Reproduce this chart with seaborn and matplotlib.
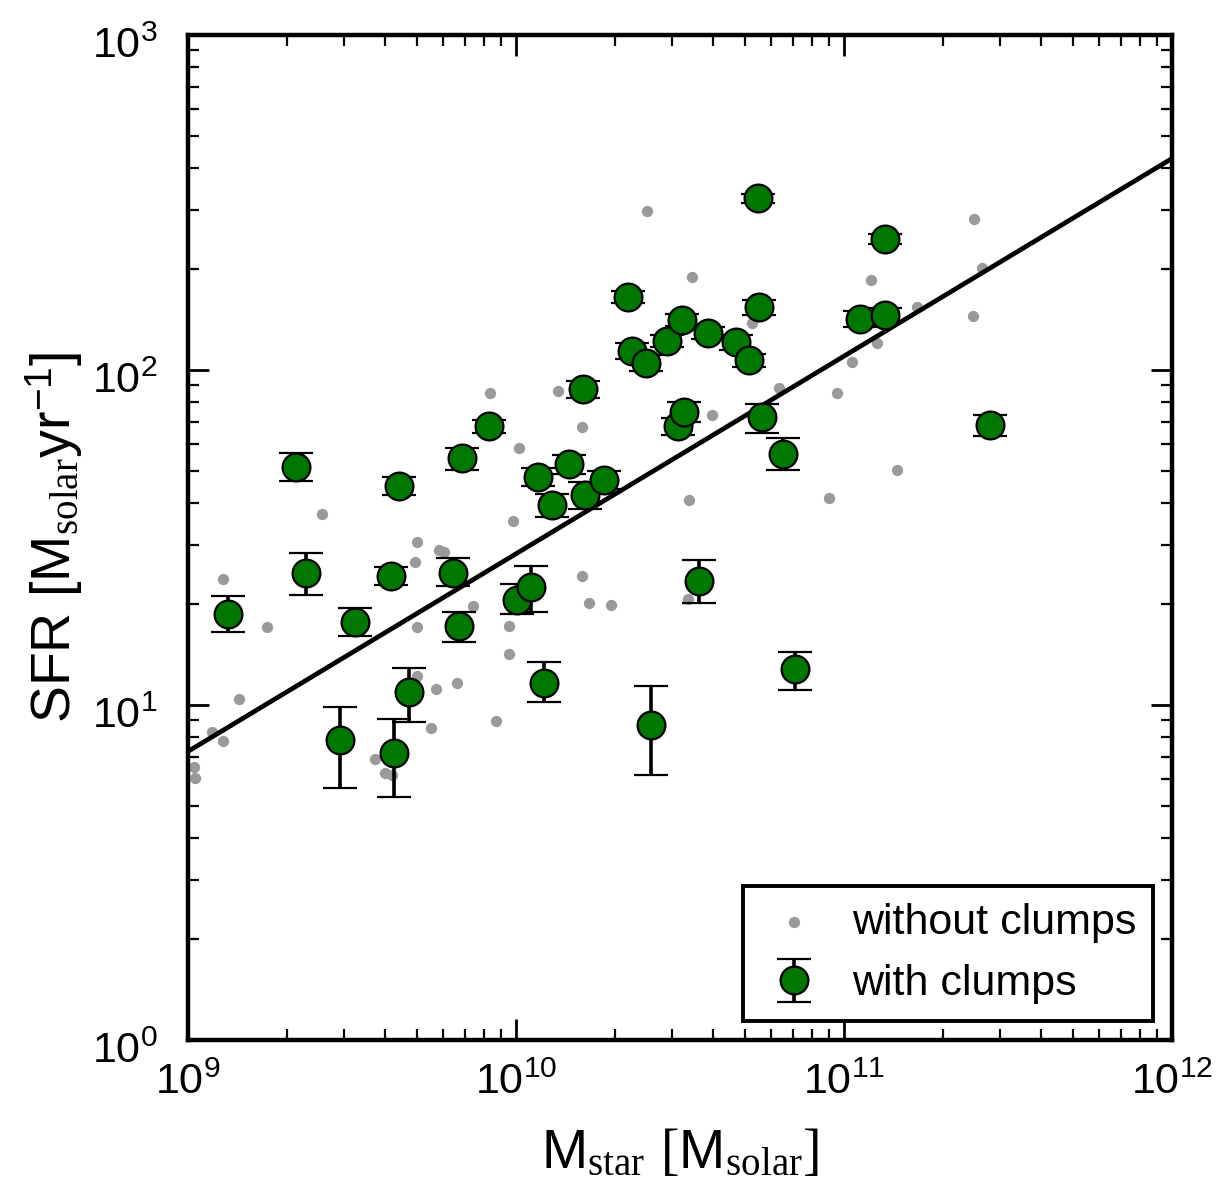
import numpy as np
import pandas as pd
import matplotlib
matplotlib.use("Agg")
import matplotlib.pyplot as plt
import matplotlib.transforms as mtransforms
import seaborn as sns

# ---- data: galaxies without clumps (grey dots) ----
mstar_noclump = [8.34e9, 1.34e10, 1.59e10, 1.02e10, 2.56e9, 9.8e9, 4.99e9, 5.82e9, 6.03e9, 4.92e9,
                 1.28e9, 1.59e10, 1.67e10, 1.74e9, 7.40e9, 4.99e9, 9.53e9, 9.53e9, 4.99e9, 5.70e9,
                 6.61e9, 1.43e9, 8.69e9, 5.51e9, 1.18e9, 1.28e9, 3.72e9, 3.99e9, 4.19e9, 1.04e9,
                 1.05e9, 2.51e10, 3.44e10, 1.21e11, 2.49e11, 1.67e11, 2.47e11, 2.64e11, 3.96e10, 5.25e10,
                 6.34e10, 1.06e11, 9.53e10, 1.26e11, 1.45e11, 3.37e10, 8.99e10, 1.95e10, 3.34e10]
sfr_noclump = [85.4, 86.5, 67.6, 58.5, 37.2, 35.4, 30.7, 29.0, 28.7, 26.7,
               23.8, 24.3, 20.2, 17.1, 19.8, 17.1, 17.2, 14.2, 12.2, 11.2,
               11.6, 10.4, 8.96, 8.53, 8.30, 7.83, 6.90, 6.27, 6.18, 6.53,
               6.05, 298, 190, 186, 282, 154, 145, 201, 73.4, 138,
               88.3, 106, 85.4, 120, 50.3, 40.9, 41.5, 19.9, 20.7]

# ---- data: galaxies with clumps (green, with error bars) ----
mstar_clump = [1.32e9, 2.13e9, 2.29e9, 2.90e9, 3.23e9, 4.16e9, 4.25e9, 4.40e9, 4.72e9, 6.43e9,
               6.70e9, 6.84e9, 8.28e9, 1.01e10, 1.11e10, 1.17e10, 1.22e10, 1.29e10, 1.45e10, 1.60e10,
               1.62e10, 1.86e10, 2.19e10, 2.26e10, 2.49e10, 2.58e10, 2.89e10, 3.12e10, 3.20e10, 3.25e10,
               3.61e10, 3.85e10, 4.69e10, 5.13e10, 5.47e10, 5.50e10, 5.62e10, 6.52e10, 7.10e10, 1.12e11,
               1.33e11, 1.33e11, 2.79e11]
sfr_clump = [18.7, 51.3, 24.8, 7.87, 17.7, 24.3, 7.2, 45.1, 10.9, 24.8,
             17.2, 54.6, 68, 20.6, 22.5, 48, 11.6, 39.5, 52.4, 87.7,
             42.4, 47, 165, 114, 105, 8.7, 122, 68, 141, 75,
             23.4, 129, 121, 107, 326, 154, 72.4, 56.1, 12.8, 142,
             146, 246, 68.6]
sfr_err_low = [2.2, 4.6, 3.5, 2.2, 1.6, 1.5, 1.9, 2.8, 2.0, 2.2,
               1.8, 4.4, 3, 1.9, 3.5, 3, 1.4, 3, 3.5, 5,
               4, 3, 7, 6, 6, 2.5, 5, 4, 6, 5,
               3.3, 5, 6, 5, 10, 8, 7.5, 5.9, 1.7, 8,
               7, 8, 5]
sfr_err_high = [2.4, 5.2, 3.6, 2.0, 1.8, 1.5, 1.9, 2.8, 2.0, 2.7,
                1.8, 3.9, 3, 2.4, 3.5, 3, 1.8, 3, 3.5, 5,
                4, 3, 7, 6, 6, 2.7, 5, 4, 6, 5,
                3.7, 5, 6, 5, 10, 8, 6.7, 6.5, 1.6, 8,
                7, 8, 5]

# ---- main-sequence relation: SFR = norm * (M / 1e11)^slope ----
line_mass = [1e9, 1e12]
line_slope = 0.59
line_norm = 110.0

x_ticks = [1e9, 1e10, 1e11, 1e12]
y_ticks = [1e0, 1e1, 1e2, 1e3]
label_noclump = "without clumps"
label_clump = "with clumps"

sns.set_theme(style="ticks")
plt.rcParams['font.family'] = ['Liberation Sans', 'DejaVu Sans']
plt.rcParams['mathtext.fontset'] = 'custom'
plt.rcParams['mathtext.rm'] = 'Liberation Serif'
plt.rcParams['mathtext.sf'] = 'Liberation Sans'
plt.rcParams['mathtext.it'] = 'Liberation Serif:italic'
plt.rcParams['text.color'] = 'black'
plt.rcParams['axes.labelcolor'] = 'black'
plt.rcParams['xtick.color'] = 'black'
plt.rcParams['ytick.color'] = 'black'

fig = plt.figure(figsize=(12.31, 11.88), dpi=100)
ax = fig.add_axes([188/1231, 1 - 1040/1188, (1172-188)/1231, (1040-35)/1188])

df_no = pd.DataFrame({"M": mstar_noclump, "SFR": sfr_noclump})
sns.scatterplot(data=df_no, x="M", y="SFR", ax=ax, color="#9a9a9a", s=66,
                linewidth=0, zorder=2, legend=False)
grey_handle = ax.collections[-1]

lm = np.array(line_mass)
df_line = pd.DataFrame({"M": lm, "SFR": line_norm * (lm / 1e11) ** line_slope})
sns.lineplot(data=df_line, x="M", y="SFR", ax=ax, color="black", lw=3.4, zorder=3)

err = ax.errorbar(mstar_clump, sfr_clump, yerr=[sfr_err_low, sfr_err_high], fmt='o',
                  color='black', ecolor='black', elinewidth=2.6, capsize=12, capthick=2.6,
                  markerfacecolor='#007700', markeredgecolor='black', markeredgewidth=1.6,
                  markersize=20, zorder=4)

ax.set_xscale('log')
ax.set_yscale('log')
ax.set_xlim(1e9, 1e12)
ax.set_ylim(1e0, 1e3)
ax.set_xticks(x_ticks)
ax.set_yticks(y_ticks)

for s in ax.spines.values():
    s.set_linewidth(3.2)
    s.set_color('black')
ax.tick_params(which='major', direction='in', length=15, width=2, top=True, right=True,
               labelsize=31, colors='black')
ax.tick_params(axis='x', which='major', pad=16)
ax.tick_params(axis='y', which='major', pad=22)
ax.tick_params(which='minor', direction='in', length=8, width=1.6, top=True, right=True)
shift = mtransforms.ScaledTranslation(0, -7/100, fig.dpi_scale_trans)
for lab in ax.get_yticklabels():
    lab.set_transform(lab.get_transform() + shift)

ax.set_xlabel(r'M$_{\rm star}$ $\rm [$M$_{\rm solar}$$\rm ]$', fontsize=40, labelpad=18)
ax.set_ylabel(r'SFR [M$_{\rm solar}$yr$^{\mathsf{-1}}$]', fontsize=40, labelpad=5)

leg = ax.legend(handles=[grey_handle, err], labels=[label_noclump, label_clump],
                loc='lower right', fontsize=31, frameon=True, fancybox=False,
                edgecolor='black', borderaxespad=0.45, handlelength=1.6,
                borderpad=0.38, labelspacing=0.5, handletextpad=0.55)
leg.get_frame().set_linewidth(2.8)
leg.get_frame().set_alpha(1)

fig.savefig("out.png", dpi=100)
